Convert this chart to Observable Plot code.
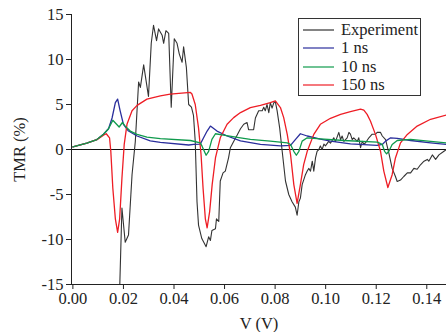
<!DOCTYPE html>
<html>
<head>
<meta charset="utf-8">
<script src="https://cdn.jsdelivr.net/npm/d3@7"></script>
<script src="https://cdn.jsdelivr.net/npm/@observablehq/plot@0.6"></script>
<style>
  html, body { margin: 0; padding: 0; background: #fff; }
  #wrap { position: relative; width: 446px; height: 332px; font-family: "Liberation Serif", "Times New Roman", serif; }
  #legend { position: absolute; left: 298px; top: 18px; width: 123px; box-sizing: border-box;
            border: 1px solid #333; background: #fff; padding: 2px 0 1px 0; }
  .row { display: flex; align-items: center; height: 18.3px; font-size: 16.5px; color: #222; }
  .row svg { margin-left: 4px; margin-right: 7px; }
</style>
</head>
<body>
<div id="wrap"><div id="legend"></div></div>
<script>
// ---- data (V in volts, TMR in %) ----
const seriesNames = ["Experiment", "1 ns", "10 ns", "150 ns"];
const seriesColors = ["#333333", "#2a2e9c", "#0f9a4c", "#ee1d25"];
const xTicks = [0, 0.02, 0.04, 0.06, 0.08, 0.10, 0.12, 0.14];
const yTicks = [-15, -10, -5, 0, 5, 10, 15];
const xDomain = [-0.00055, 0.1478];
const yDomain = [-15, 15];

const experiment = [
  [0.0185,-15.6],[0.0194,-6.5],[0.0207,-10.3],[0.0220,-9.5],[0.0234,-2.8],[0.0247,0.9],
  [0.0260,7.5],[0.0267,6.9],[0.0280,9.4],[0.0299,5.9],[0.0310,11.8],[0.0319,13.8],
  [0.0331,12.1],[0.0339,13.4],[0.0353,12.7],[0.0359,11.8],[0.0368,13.2],[0.0379,12.9],
  [0.0389,4.7],[0.0401,12.3],[0.0412,11.8],[0.0421,10.6],[0.0432,9.7],[0.0438,11.4],
  [0.0449,9.1],[0.0458,5.0],[0.0469,4.7],[0.0477,3.8],[0.0484,0.9],[0.0491,-5.8],
  [0.0497,-8.4],[0.0510,-9.9],[0.0527,-10.8],[0.0537,-9.7],[0.0544,-10.1],[0.0550,-9.0],
  [0.0564,-8.8],[0.0568,-7.7],[0.0577,-8.0],[0.0583,-3.5],[0.0594,-2.6],[0.0603,-2.4],
  [0.0616,-0.9],[0.0623,0.2],[0.0636,0.9],[0.0650,1.6],[0.0663,2.3],[0.0676,2.8],
  [0.0689,3.0],[0.0695,2.2],[0.0715,2.2],[0.0722,3.5],[0.0735,4.3],[0.0749,4.3],
  [0.0755,4.7],[0.0761,4.3],[0.0768,5.0],[0.0775,4.1],[0.0781,5.2],[0.0788,4.6],
  [0.0795,5.2],[0.0801,5.3],[0.0808,4.3],[0.0818,2.4],[0.0828,-0.2],[0.0841,-3.5],
  [0.0854,-5.0],[0.0867,-5.8],[0.0880,-6.4],[0.0887,-7.3],[0.0894,-5.8],[0.0900,-5.4],
  [0.0907,-3.9],[0.0920,-2.8],[0.0927,-2.4],[0.0933,-2.1],[0.0940,-2.4],[0.0947,-1.3],
  [0.0953,-2.4],[0.0960,-0.9],[0.0966,-0.2],[0.0973,0.0],[0.0979,0.4],[0.0986,0.0],
  [0.0993,0.6],[0.0999,0.4],[0.1012,0.9],[0.1019,0.7],[0.1032,1.3],[0.1039,0.9],
  [0.1052,1.9],[0.1059,1.1],[0.1065,1.5],[0.1072,0.9],[0.1085,1.3],[0.1092,1.9],
  [0.1098,1.7],[0.1105,1.1],[0.1111,1.3],[0.1125,0.9],[0.1131,1.3],[0.1138,0.2],
  [0.1145,0.9],[0.1151,0.6],[0.1158,0.75],[0.1171,1.3],[0.1184,1.7],[0.1197,1.7],
  [0.1204,1.9],[0.1217,1.9],[0.1224,1.5],[0.1237,1.1],[0.1250,-0.4],[0.1263,-2.1],
  [0.1276,-3.0],[0.1283,-3.55],[0.1296,-3.4],[0.1309,-3.0],[0.1323,-2.6],[0.1336,-2.6],
  [0.1349,-2.1],[0.1362,-2.2],[0.1375,-1.7],[0.1389,-1.3],[0.1402,-1.1],[0.1408,-1.3],
  [0.1422,-0.6],[0.1435,-1.1],[0.1448,-0.6],[0.1468,-0.2],[0.1478,0.0]
];

const ns1 = [
  [0.0000,0.3],[0.0055,0.7],[0.0095,1.1],[0.0121,1.7],[0.0141,2.3],[0.0155,3.5],
  [0.0168,5.2],[0.0177,5.6],[0.0187,4.3],[0.0200,2.8],[0.0220,2.05],[0.0254,1.5],
  [0.0306,0.95],[0.0346,0.8],[0.0458,0.5],[0.0478,0.56],[0.0504,0.6],[0.0517,1.3],
  [0.0531,2.05],[0.0544,2.6],[0.0570,2.05],[0.0610,1.5],[0.0663,0.95],[0.0742,0.56],
  [0.0821,0.4],[0.0861,0.45],[0.0880,1.1],[0.0900,1.75],[0.0927,1.5],[0.0979,1.15],
  [0.1019,0.93],[0.1098,0.63],[0.1204,0.45],[0.1224,0.56],[0.1237,0.93],[0.1257,1.3],
  [0.1283,1.23],[0.1336,1.0],[0.1415,0.74],[0.1478,0.56]
];

const ns10 = [
  [0.0000,0.3],[0.0055,0.7],[0.0095,1.1],[0.0121,1.7],[0.0141,2.3],[0.0158,3.25],
  [0.0183,2.5],[0.0196,3.0],[0.0207,2.6],[0.0227,2.05],[0.0254,1.68],[0.0293,1.38],
  [0.0346,1.2],[0.0465,1.0],[0.0504,0.74],[0.0511,0.37],[0.0527,-0.64],[0.0537,-0.2],
  [0.0550,1.12],[0.0564,1.75],[0.0596,1.6],[0.0663,1.3],[0.0702,1.12],[0.0781,0.93],
  [0.0848,0.74],[0.0861,0.56],[0.0874,-0.2],[0.0884,-0.64],[0.0894,-0.2],[0.0907,0.93],
  [0.0927,1.3],[0.0979,1.19],[0.1072,1.0],[0.1204,0.82],[0.1224,0.56],[0.1233,-0.2],
  [0.1241,-0.49],[0.1250,-0.2],[0.1263,0.56],[0.1283,1.0],[0.1336,1.12],[0.1478,0.74]
];

const ns150 = [
  [0.0000,0.3],[0.0055,0.7],[0.0095,1.1],[0.0121,1.6],[0.0132,1.75],[0.0145,1.3],
  [0.0150,-0.2],[0.0158,-4.3],[0.0168,-7.7],[0.0177,-9.2],[0.0185,-7.7],[0.0194,-3.2],
  [0.0203,0.56],[0.0214,2.8],[0.0234,4.3],[0.0254,4.9],[0.0293,5.6],[0.0346,5.97],
  [0.0385,6.16],[0.0465,6.34],[0.0471,6.16],[0.0484,5.0],[0.0497,2.4],[0.0507,-0.56],
  [0.0515,-4.3],[0.0524,-7.7],[0.0531,-8.7],[0.0541,-6.9],[0.0551,-3.9],[0.0564,-0.94],
  [0.0583,1.3],[0.0610,2.8],[0.0636,3.54],[0.0663,4.1],[0.0702,4.66],[0.0742,4.9],
  [0.0781,5.2],[0.0801,5.4],[0.0821,4.66],[0.0834,3.54],[0.0848,1.68],[0.0861,-0.56],
  [0.0874,-3.9],[0.0887,-5.98],[0.0900,-3.9],[0.0913,-1.68],[0.0927,-0.2],[0.0953,1.68],
  [0.0979,2.8],[0.1019,3.47],[0.1059,3.9],[0.1098,4.2],[0.1138,4.48],[0.1151,4.37],
  [0.1164,3.9],[0.1177,3.17],[0.1197,1.68],[0.1217,-0.2],[0.1230,-2.4],[0.1246,-4.22],
  [0.1263,-2.8],[0.1276,-0.94],[0.1296,0.74],[0.1323,1.68],[0.1362,2.6],[0.1415,3.36],
  [0.1478,3.84]
];

const seriesData = [experiment, ns1, ns10, ns150];
const drawOrder = [0, 1, 3, 2];

const lineMarks = drawOrder.map(i =>
  Plot.line(seriesData[i], { x: d => d[0], y: d => d[1], stroke: seriesColors[i], strokeWidth: i === 0 ? 1.1 : 1.3, curve: "linear", clip: true })
);

const chart = Plot.plot({
  width: 446,
  height: 332,
  marginLeft: 71,
  marginRight: 0,
  marginTop: 14,
  marginBottom: 48,
  style: { fontFamily: "'Liberation Serif', 'Times New Roman', serif", fontSize: "16.5px", color: "#222", background: "transparent" },
  x: { domain: xDomain },
  y: { domain: yDomain },
  marks: [
    Plot.ruleY([0], { stroke: "#111", strokeWidth: 1 }),
    ...lineMarks,
    Plot.ruleX([xDomain[0]], { stroke: "#222", strokeWidth: 1 }),
    Plot.ruleY([yDomain[0]], { stroke: "#222", strokeWidth: 1 }),
    Plot.axisX({ ticks: xTicks, tickFormat: d => d.toFixed(2), tickSize: 5, tickPadding: 3, fontSize: "16.5px",
                 label: "V (V)", labelAnchor: "center", labelArrow: "none", labelOffset: 44 }),
    Plot.axisY({ ticks: yTicks, tickFormat: d => String(d), tickSize: 5, tickPadding: 3, fontSize: "16.5px",
                 label: "TMR (%)", labelAnchor: "center", labelArrow: "none", labelOffset: 58 })
  ]
});
chart.style.position = "absolute";
chart.style.left = "0";
chart.style.top = "0";
const wrap = document.getElementById("wrap");
wrap.insertBefore(chart, wrap.firstChild);

const legend = document.getElementById("legend");
seriesNames.forEach((name, i) => {
  const row = document.createElement("div");
  row.className = "row";
  row.innerHTML = `<svg width="31" height="4"><line x1="0" x2="31" y1="2" y2="2" stroke="${seriesColors[i]}" stroke-width="1.2"/></svg><span>${name}</span>`;
  legend.appendChild(row);
});
</script>
</body>
</html>
